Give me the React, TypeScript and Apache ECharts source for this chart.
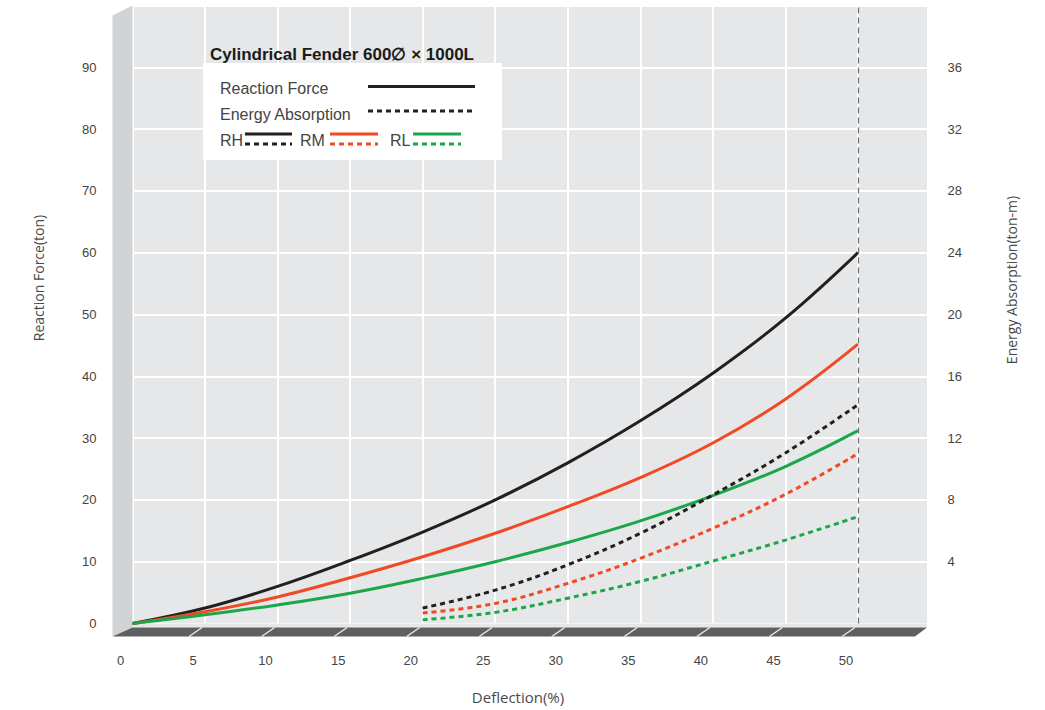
import React, { useEffect, useRef } from "react";
import * as echarts from "echarts";

// Deflection (%) for force curves
const X_FORCE = [0, 5, 10, 15, 20, 25, 30, 35, 40, 45, 50];
// Reaction force (ton)
const RH_FORCE = [0, 2.5, 6.0, 10.2, 14.8, 20.0, 26.0, 32.8, 40.5, 49.4, 60.0];
const RM_FORCE = [0, 1.9, 4.3, 7.4, 10.8, 14.6, 18.9, 23.6, 29.2, 36.3, 45.2];
const RL_FORCE = [0, 1.4, 3.0, 4.9, 7.3, 10.0, 13.1, 16.6, 20.7, 25.4, 31.2];
// Deflection (%) for energy curves
const X_ENERGY = [20, 25, 30, 35, 40, 45, 50];
// Energy absorption (ton-m)
const RH_ENERGY = [1.0, 2.16, 3.8, 5.84, 8.32, 11.04, 14.16];
const RM_ENERGY = [0.68, 1.3, 2.6, 4.22, 6.16, 8.36, 11.0];
const RL_ENERGY = [0.24, 0.72, 1.64, 2.72, 4.04, 5.4, 6.92];

const X_TICKS = [0, 5, 10, 15, 20, 25, 30, 35, 40, 45, 50];

const BLACK = "#231f20";
const RED = "#f04923";
const GREEN = "#1ba64a";

const pairs = (xs: number[], ys: number[]) => xs.map((x, i) => [x, ys[i]]);

export default function App() {
  const ref = useRef<HTMLDivElement>(null);
  useEffect(() => {
    if (!ref.current) return;
    const chart = echarts.init(ref.current, null, { renderer: "svg" });
    const solid = (name: string, color: string, ys: number[]) => ({
      name,
      type: "line",
      yAxisIndex: 0,
      smooth: 0.4,
      showSymbol: false,
      data: pairs(X_FORCE, ys),
      lineStyle: { color, width: 3 },
      z: 3,
    });
    const dashed = (name: string, color: string, ys: number[]) => ({
      name,
      type: "line",
      yAxisIndex: 1,
      smooth: 0.4,
      showSymbol: false,
      data: pairs(X_ENERGY, ys),
      lineStyle: { color, width: 3, type: [5, 4] },
      z: 3,
    });
    const tickFont = { fontFamily: "Liberation Sans, Arial, sans-serif", fontSize: 13, color: "#444444" };
    chart.setOption({
      animation: false,
      grid: {
        left: 132.5,
        top: 5.5,
        width: 798,
        height: 618,
        show: true,
        backgroundColor: "#e6e7e8",
        borderWidth: 0,
      },
      xAxis: {
        type: "value",
        min: 0,
        max: 55,
        interval: 5,
        axisLine: { show: false },
        axisTick: { show: false },
        splitLine: { show: true, lineStyle: { color: "#ffffff", width: 2 } },
        axisLabel: {
          ...tickFont,
          margin: 30,
          padding: [0, 24, 0, 0],
          formatter: (v: number) => (X_TICKS.includes(v) ? String(v) : ""),
        },
      },
      yAxis: [
        {
          type: "value",
          min: 0,
          max: 100,
          interval: 10,
          axisLine: { show: false },
          axisTick: { show: false },
          splitLine: { show: true, lineStyle: { color: "#ffffff", width: 2 } },
          axisLabel: { ...tickFont, margin: 36, formatter: (v: number) => (v === 100 ? "" : String(v)) },
        },
        {
          type: "value",
          position: "right",
          min: 0,
          max: 40,
          interval: 4,
          axisLine: { show: false },
          axisTick: { show: false },
          splitLine: { show: false },
          axisLabel: {
            ...tickFont,
            margin: 17,
            formatter: (v: number) => (v === 0 || v === 40 ? "" : String(v)),
          },
        },
      ],
      series: [
        {
          ...solid("RH Reaction Force", BLACK, RH_FORCE),
          markLine: {
            silent: true,
            symbol: "none",
            label: { show: false },
            lineStyle: { color: "#6d6e70", width: 1.2, type: [6, 4] },
            data: [{ xAxis: 50 }],
          },
        },
        solid("RM Reaction Force", RED, RM_FORCE),
        solid("RL Reaction Force", GREEN, RL_FORCE),
        dashed("RH Energy Absorption", BLACK, RH_ENERGY),
        dashed("RM Energy Absorption", RED, RM_ENERGY),
        dashed("RL Energy Absorption", GREEN, RL_ENERGY),
      ],
    });

    const gx = (v: number) => chart.convertToPixel({ xAxisIndex: 0 }, v) as number;
    const gy = (v: number) => chart.convertToPixel({ yAxisIndex: 0 }, v) as number;
    const x0 = gx(0);
    const y0 = gy(0);
    const yTop = gy(100);
    const xRight = 927;

    const graphics: any[] = [];
    graphics.push({ type: "rect", z: 10, shape: { x: xRight, y: 0, width: 10, height: y0 + 2 }, style: { fill: "#ffffff" } });
    graphics.push({ type: "rect", z: 1, shape: { x: x0, y: y0, width: xRight - x0, height: 4 }, style: { fill: "#e6e7e8" } });
    graphics.push({
      type: "polygon",
      z: 1,
      shape: { points: [[x0 - 20, yTop + 10], [x0, yTop], [x0, y0 + 4], [x0 - 20, y0 + 13]] },
      style: { fill: "#d2d3d5" },
    });
    graphics.push({
      type: "polygon",
      z: 1,
      shape: { points: [[x0, y0 + 4], [xRight, y0 + 4], [xRight - 12, y0 + 13], [x0 - 20, y0 + 13]] },
      style: { fill: "#5e5f61" },
    });
    X_TICKS.slice(1).forEach((v) => {
      const px = gx(v);
      graphics.push({
        type: "line",
        z: 2,
        shape: { x1: px - 3, y1: y0 + 4, x2: px - 16, y2: y0 + 13 },
        style: { stroke: "#e9e9e9", lineWidth: 1.5 },
      });
    });
    const nameFont = "14px 'Open Sans', 'Noto Sans', sans-serif";
    graphics.push({
      type: "text",
      z: 20,
      x: 38,
      y: 278,
      rotation: Math.PI / 2,
      style: { text: "Reaction Force(ton)", font: nameFont, fill: "#4a4a4a", textAlign: "center", textVerticalAlign: "middle" },
    });
    graphics.push({
      type: "text",
      z: 20,
      x: 1011,
      y: 280,
      rotation: Math.PI / 2,
      style: { text: "Energy Absorption(ton-m)", font: nameFont, fill: "#4a4a4a", textAlign: "center", textVerticalAlign: "middle" },
    });
    graphics.push({
      type: "text",
      z: 20,
      x: 518,
      y: 697,
      style: { text: "Deflection(%)", font: "15px 'Open Sans', 'Noto Sans', sans-serif", fill: "#4a4a4a", textAlign: "center", textVerticalAlign: "middle" },
    });
    graphics.push({ type: "rect", z: 20, shape: { x: 203, y: 63, width: 299, height: 97 }, style: { fill: "#ffffff" } });
    graphics.push({
      type: "text",
      z: 21,
      x: 210,
      y: 54,
      style: {
        text: "Cylindrical Fender 600\u2205 \u00d7 1000L",
        font: "bold 17px 'Liberation Sans', Arial, sans-serif",
        fill: "#1a1a1a",
        textVerticalAlign: "middle",
      },
    });
    const legFont = "16px 'Liberation Sans', Arial, sans-serif";
    const legText = (t: string, x: number, y: number) =>
      graphics.push({ type: "text", z: 21, x, y, style: { text: t, font: legFont, fill: "#444444", textVerticalAlign: "middle" } });
    const legLine = (x1: number, x2: number, y: number, color: string, dashedLine: boolean) =>
      graphics.push({
        type: "line",
        z: 21,
        shape: { x1, y1: y, x2, y2: y },
        style: { stroke: color, lineWidth: 3, lineDash: dashedLine ? [5, 4] : null },
      });
    legText("Reaction Force", 220, 88);
    legLine(368, 475, 86.5, BLACK, false);
    legText("Energy Absorption", 220, 114);
    legLine(368, 475, 111, BLACK, true);
    legText("RH", 220, 140);
    legLine(245, 292, 134, BLACK, false);
    legLine(245, 292, 144, BLACK, true);
    legText("RM", 300, 140);
    legLine(330, 378, 134, RED, false);
    legLine(330, 378, 144, RED, true);
    legText("RL", 390, 140);
    legLine(413, 461, 134, GREEN, false);
    legLine(413, 461, 144, GREEN, true);

    chart.setOption({ graphic: graphics });
    return () => chart.dispose();
  }, []);
  return <div ref={ref} style={{ position: "absolute", left: 0, top: 0, width: 1045, height: 710 }} />;
}
